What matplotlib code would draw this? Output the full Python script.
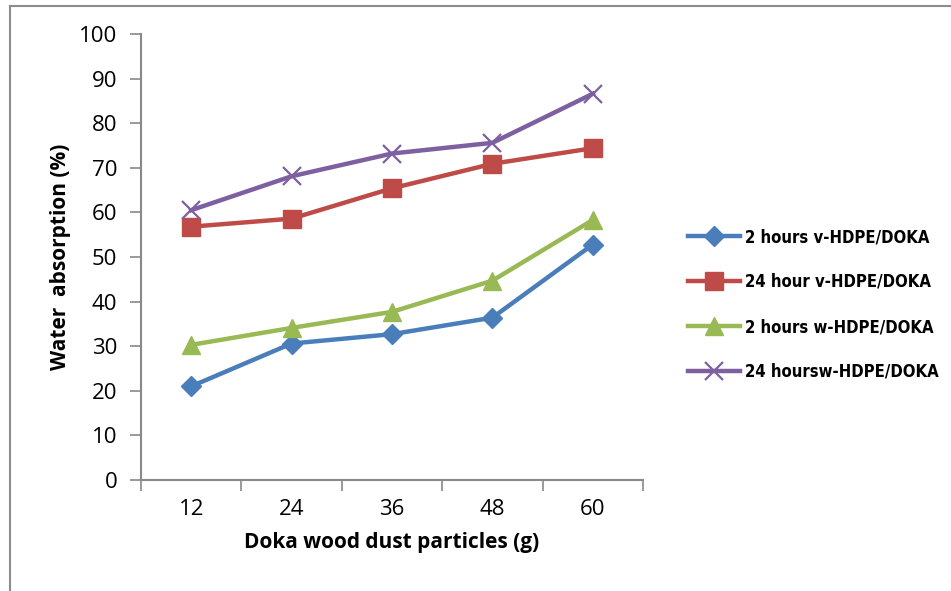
import matplotlib
matplotlib.use("Agg")
import matplotlib.pyplot as plt
from matplotlib.lines import Line2D
import numpy as np

categories = ["12", "24", "36", "48", "60"]
s_2h_v = [21.0, 30.6, 32.7, 36.4, 52.8]
s_24h_v = [56.8, 58.6, 65.4, 70.9, 74.4]
s_2h_w = [30.3, 34.1, 37.7, 44.7, 58.3]
s_24h_w = [60.5, 68.1, 73.2, 75.6, 86.6]
labels = ["2 hours v-HDPE/DOKA", "24 hour v-HDPE/DOKA",
          "2 hours w-HDPE/DOKA", "24 hoursw-HDPE/DOKA"]
yticks = list(range(0, 101, 10))

colors = ["#4A7EBB", "#BE4B48", "#98B954", "#7D60A0"]
markers = ["D", "s", "^", "x"]
msizes = [10.5, 12.5, 12.5, 12.5]

fig = plt.figure(figsize=(9.51, 5.91), dpi=100)
ax = fig.add_axes([141/951, 1-480/591, (643-141)/951, (480-34)/591])

x = np.arange(1, len(categories)+1)
series = [s_2h_v, s_24h_v, s_2h_w, s_24h_w]
handles = []
for s, c, m, ms, lab in zip(series, colors, markers, msizes, labels):
    kw = dict(color=c, lw=3.2, marker=m, markersize=ms, label=lab)
    if m == "x":
        kw.update(markeredgewidth=1.6)
    else:
        kw.update(markeredgecolor=c)
    h, = ax.plot(x, s, **kw)
    handles.append(h)

ax.set_xlim(0.5, len(categories)+0.5)
ax.set_ylim(0, 100)
ax.set_yticks(yticks)
ax.set_yticklabels([str(v) for v in yticks], fontsize=16, family="Open Sans")
ax.set_xticks(x)
ax.set_xticklabels(categories, fontsize=16, family="Open Sans")
ax.set_xticks(np.arange(0.5, len(categories)+1, 1), minor=True)
ax.tick_params(axis="x", which="major", length=0, pad=14)
ax.tick_params(axis="x", which="minor", length=8, width=1.2, color="#898989", direction="out")
ax.tick_params(axis="y", length=8, width=1.2, color="#898989", direction="out", pad=9)
for sp in ["top", "right"]:
    ax.spines[sp].set_visible(False)
for sp in ["left", "bottom"]:
    ax.spines[sp].set_color("#898989")
    ax.spines[sp].set_linewidth(1.5)

ax.set_xlabel("Doka wood dust particles (g)", fontsize=15, fontweight="bold",
              family="Open Sans", labelpad=8)
ax.set_ylabel("Water  absorption (%)", fontsize=15, fontweight="bold",
              family="Open Sans", labelpad=6)

leg = fig.legend(handles=handles, loc="upper left", bbox_to_anchor=(673/951, 1-213/591),
                 frameon=False, handlelength=3.1, labelspacing=1.62,
                 handletextpad=0.3,
                 prop={"family": ["DejaVu Sans"], "stretch": "condensed", "weight": "bold", "size": 12})

# outer border (left and top)
fig.add_artist(Line2D([10/951, 10/951], [0, 1-6/591], color="#8c8c8c", lw=1.5, transform=fig.transFigure))
fig.add_artist(Line2D([10/951, 1], [1-6/591, 1-6/591], color="#8c8c8c", lw=1.5, transform=fig.transFigure))

fig.savefig("out.png", dpi=100)
